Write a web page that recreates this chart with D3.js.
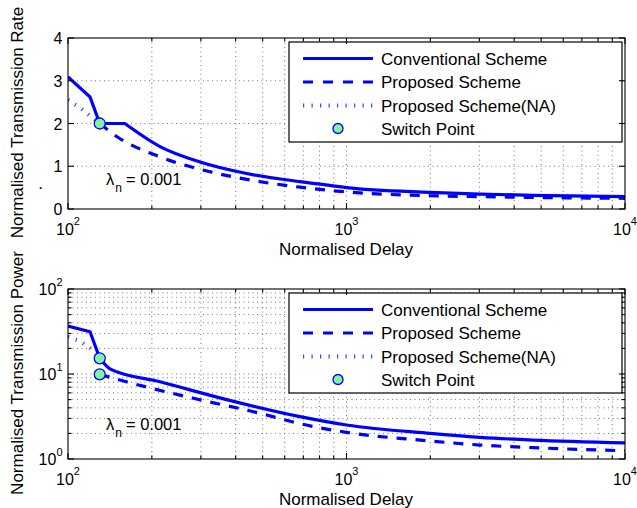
<!DOCTYPE html>
<html><head><meta charset="utf-8">
<script src="https://cdn.jsdelivr.net/npm/d3@7"></script>
<style>
body{margin:0;background:#fff;}
text{font-family:"Liberation Sans",Arial,Helvetica,sans-serif;fill:#000;}
</style></head>
<body><svg id="c" width="637" height="508"></svg>
<script>
// ---------- data ----------
const xDomain = [100, 10000];
const xMajorTicks = [100, 1000, 10000];
const xTickExp = ["2", "3", "4"];
const rateTicks = [0, 1, 2, 3, 4];
const powerTicks = [1, 10, 100];
const powerTickExp = ["0", "1", "2"];
const legendLabels = ["Conventional Scheme", "Proposed Scheme", "Proposed Scheme(NA)", "Switch Point"];
const lambdaText = "= 0.001";

// top panel: normalised transmission rate
const rateConvX = [100, 120, 130, 160, 214, 298, 438, 681, 804, 1000, 1995, 3013, 4677, 10000];
const rateConvY = [3.09, 2.62, 2.0, 2.0, 1.46, 1.10, 0.83, 0.64, 0.58, 0.50, 0.39, 0.35, 0.32, 0.29];
const ratePropX = [130, 150, 214, 324, 489, 681, 1000, 1995, 3013, 4677, 10000];
const ratePropY = [2.0, 1.69, 1.22, 0.87, 0.64, 0.51, 0.40, 0.31, 0.29, 0.27, 0.25];
const rateNAX = [100, 110, 122, 130];
const rateNAY = [2.55, 2.38, 2.14, 2.0];
const rateSwitchX = [130];
const rateSwitchY = [2.0];

// bottom panel: normalised transmission power
const powConvX = [100, 120, 130, 142, 214, 371, 681, 1000, 1995, 3013, 4677, 10000];
const powConvY = [36.7, 31.4, 15.3, 11.4, 8.1, 5.0, 3.15, 2.51, 2.0, 1.80, 1.67, 1.55];
const powPropX = [130, 162, 282, 489, 681, 1000, 1995, 3013, 4677, 10000];
const powPropY = [9.9, 8.1, 5.18, 3.45, 2.6, 2.06, 1.63, 1.46, 1.36, 1.25];
const powNAX = [100, 110, 122, 130];
const powNAY = [27.5, 24.5, 19.5, 15.3];
const powSwitchX = [130, 130];
const powSwitchY = [15.3, 9.9];

// ---------- drawing ----------
const svg = d3.select("#c");
const BLUE = "#0000ff";
const GREEN = "#80f5a0";
const L = 68, R = 625;
const x = d3.scaleLog().domain(xDomain).range([L, R]);
const xMinor = [];
[100, 1000].forEach(d => { for (let k = 2; k <= 9; k++) xMinor.push(d * k); });

function zip(a, b) { return a.map((v, i) => [v, b[i]]); }

function panel(opt) {
  const g = svg.append("g");
  const y = opt.y;
  const T = y.range()[1], B = y.range()[0];
  const id = "clip" + opt.key;
  svg.append("clipPath").attr("id", id).append("rect")
    .attr("x", L).attr("y", T).attr("width", R - L).attr("height", B - T);

  // grid
  const grid = g.append("g").attr("stroke", "#555").attr("stroke-width", 0.8)
    .attr("stroke-dasharray", "1,3.5");
  xMinor.concat([1000]).forEach(v => {
    grid.append("line").attr("x1", x(v)).attr("x2", x(v)).attr("y1", T).attr("y2", B);
  });
  opt.yGrid.forEach(v => {
    grid.append("line").attr("x1", L).attr("x2", R).attr("y1", y(v)).attr("y2", y(v));
  });

  // curves: straight head (kinks), smooth tail
  const lin = d3.line().x(d => x(d[0])).y(d => y(d[1]));
  const smooth = d3.line().x(d => x(d[0])).y(d => y(d[1])).curve(d3.curveMonotoneX);
  function pathD(pts, nLin) {
    if (nLin <= 1) return smooth(pts);
    const head = lin(pts.slice(0, nLin));
    const tail = smooth(pts.slice(nLin - 1));
    return head + tail.replace(/^M/, "L");
  }
  const cg = g.append("g").attr("clip-path", `url(#${id})`).attr("fill", "none");
  cg.append("path").attr("d", lin(zip(opt.naX, opt.naY)))
    .attr("stroke", BLUE).attr("stroke-width", 4).attr("stroke-dasharray", "1.2,7").attr("opacity", 0.75);
  cg.append("path").attr("d", pathD(zip(opt.propX, opt.propY), 0))
    .attr("stroke", BLUE).attr("stroke-width", 3.2).attr("stroke-dasharray", "10,9");
  cg.append("path").attr("d", pathD(zip(opt.convX, opt.convY), opt.convLin))
    .attr("stroke", BLUE).attr("stroke-width", 3.2).attr("stroke-linejoin", "round");

  // switch points
  g.selectAll(null).data(zip(opt.swX, opt.swY)).join("circle")
    .attr("cx", d => x(d[0])).attr("cy", d => y(d[1])).attr("r", 5.5)
    .attr("fill", GREEN).attr("stroke", BLUE).attr("stroke-width", 1.3);

  // lambda annotation
  const lt = g.append("text").attr("x", 106).attr("y", opt.lambdaY).attr("font-size", 16.5);
  lt.append("tspan").text("λ");
  lt.append("tspan").attr("font-size", 12).attr("dy", 7).attr("dx", 1).text("n");
  lt.append("tspan").attr("dy", -7).attr("dx", 4).text(lambdaText);

  // legend
  const lx = 289, lw = 333, ly = T + 4, lh = 100;
  const lg = g.append("g");
  lg.append("rect").attr("x", lx).attr("y", ly).attr("width", lw).attr("height", lh)
    .attr("fill", "#fff").attr("stroke", "#000").attr("stroke-width", 1.2);
  const rows = [ly + 16.5, ly + 40, ly + 63.5, ly + 86.5];
  lg.append("line").attr("x1", 303).attr("x2", 373).attr("y1", rows[0]).attr("y2", rows[0])
    .attr("stroke", BLUE).attr("stroke-width", 3.2);
  lg.append("line").attr("x1", 303).attr("x2", 373).attr("y1", rows[1]).attr("y2", rows[1])
    .attr("stroke", BLUE).attr("stroke-width", 3.2).attr("stroke-dasharray", "10,10");
  lg.append("line").attr("x1", 303).attr("x2", 373).attr("y1", rows[2]).attr("y2", rows[2])
    .attr("stroke", BLUE).attr("stroke-width", 4).attr("stroke-dasharray", "1.2,7.3").attr("opacity", 0.75);
  lg.append("circle").attr("cx", 338).attr("cy", rows[3]).attr("r", 5)
    .attr("fill", GREEN).attr("stroke", BLUE).attr("stroke-width", 1.3);
  legendLabels.forEach((t, i) => {
    lg.append("text").attr("x", 381).attr("y", rows[i] + 6).attr("font-size", 17).text(t);
  });

  // axes box + ticks
  const ax = g.append("g").attr("stroke", "#000").attr("stroke-width", 1.1).attr("fill", "none");
  ax.append("rect").attr("x", L).attr("y", T).attr("width", R - L).attr("height", B - T);
  xMajorTicks.forEach(v => {
    ax.append("line").attr("x1", x(v)).attr("x2", x(v)).attr("y1", B).attr("y2", B - 6);
    ax.append("line").attr("x1", x(v)).attr("x2", x(v)).attr("y1", T).attr("y2", T + 6);
  });
  xMinor.forEach(v => {
    ax.append("line").attr("x1", x(v)).attr("x2", x(v)).attr("y1", B).attr("y2", B - 3.5);
    ax.append("line").attr("x1", x(v)).attr("x2", x(v)).attr("y1", T).attr("y2", T + 3.5);
  });
  opt.yTicks.forEach(v => {
    ax.append("line").attr("x1", L).attr("x2", L + 6).attr("y1", y(v)).attr("y2", y(v));
    ax.append("line").attr("x1", R).attr("x2", R - 6).attr("y1", y(v)).attr("y2", y(v));
  });
  (opt.yMinor || []).forEach(v => {
    ax.append("line").attr("x1", L).attr("x2", L + 3.5).attr("y1", y(v)).attr("y2", y(v));
    ax.append("line").attr("x1", R).attr("x2", R - 3.5).attr("y1", y(v)).attr("y2", y(v));
  });

  // x tick labels
  xMajorTicks.forEach((v, i) => {
    const t = g.append("text").attr("x", x(v)).attr("y", B + 25.5).attr("font-size", 16)
      .attr("text-anchor", "middle");
    t.append("tspan").text("10");
    t.append("tspan").attr("font-size", 11).attr("dy", -9.5).text(xTickExp[i]);
  });
  // y tick labels
  opt.yTicks.forEach((v, i) => {
    const t = g.append("text").attr("x", 62.5).attr("y", y(v) + 6).attr("font-size", 16)
      .attr("text-anchor", "end");
    if (opt.yExp) {
      t.append("tspan").text("10");
      t.append("tspan").attr("font-size", 11).attr("dy", -9.5).text(opt.yExp[i]);
    } else t.text(v);
  });
  // axis labels
  g.append("text").attr("x", (L + R) / 2 - 0.5).attr("y", B + 46).attr("font-size", 17)
    .attr("text-anchor", "middle").text("Normalised Delay");
  g.append("text").attr("transform", `translate(23,${(T + B) / 2 - 1}) rotate(-90)`)
    .attr("font-size", 17).attr("text-anchor", "middle").text(opt.ylabel);
}

panel({
  key: "a",
  y: d3.scaleLinear().domain([0, 4]).range([209, 38]),
  yTicks: rateTicks, yGrid: [1, 2, 3],
  convX: rateConvX, convY: rateConvY, convLin: 4, propX: ratePropX, propY: ratePropY,
  naX: rateNAX, naY: rateNAY, swX: rateSwitchX, swY: rateSwitchY,
  lambdaY: 185, ylabel: "Normalised Transmission Rate"
});

const powMinor = [];
[1, 10].forEach(d => { for (let k = 2; k <= 9; k++) powMinor.push(d * k); });
panel({
  key: "b",
  y: d3.scaleLog().domain([1, 100]).range([459, 289]),
  yTicks: powerTicks, yExp: powerTickExp, yMinor: powMinor, yGrid: powMinor.concat([10]),
  convX: powConvX, convY: powConvY, convLin: 3, propX: powPropX, propY: powPropY,
  naX: powNAX, naY: powNAY, swX: powSwitchX, swY: powSwitchY,
  lambdaY: 430, ylabel: "Normalised Transmission Power"
});

// stray dot in the original figure
svg.append("text").attr("x", 40.5).attr("y", 189).attr("font-size", 17)
  .attr("text-anchor", "middle").text(".");
</script></body></html>
